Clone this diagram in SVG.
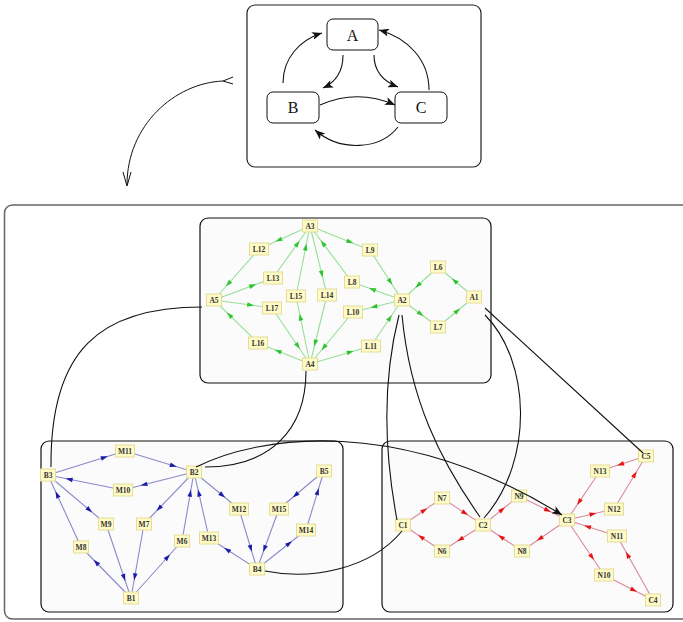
<svg xmlns="http://www.w3.org/2000/svg" width="683" height="622" viewBox="0 0 683 622">
<style>
.box{fill:#fff;stroke:#222;stroke-width:1.2}
.cl{fill:#fbfbfb;stroke:#111;stroke-width:1.2}
.st{fill:#fff;stroke:#111;stroke-width:1}
.big{font-family:"Liberation Serif",serif;font-size:16px;fill:#111;text-anchor:middle}
.nd{fill:#fefbc6;stroke:#e6dc98;stroke-width:1}
.nt{font-family:"Liberation Serif",serif;font-size:7.5px;font-weight:bold;fill:#333;text-anchor:middle}
.k{fill:none;stroke:#111;stroke-width:1.1}
.g{stroke:#97df97;stroke-width:1.1;marker-end:url(#ag)}
.b{stroke:#8a8acb;stroke-width:1.1;marker-end:url(#ab)}
.r{stroke:#d88a9a;stroke-width:1.1;marker-end:url(#ar)}
</style>
<defs>
<marker id="ag" markerUnits="userSpaceOnUse" orient="auto" viewBox="0 -4 30 8" markerWidth="30" markerHeight="8" refX="30" refY="0"><path d="M5,-2.3 L12,0 L5,2.3 z" fill="#2fc42f"/></marker>
<marker id="ab" markerUnits="userSpaceOnUse" orient="auto" viewBox="0 -4 30 8" markerWidth="30" markerHeight="8" refX="30" refY="0"><path d="M5,-2.3 L12,0 L5,2.3 z" fill="#1c1ca8"/></marker>
<marker id="ar" markerUnits="userSpaceOnUse" orient="auto" viewBox="0 -4 30 8" markerWidth="30" markerHeight="8" refX="30" refY="0"><path d="M5,-2.3 L12,0 L5,2.3 z" fill="#e41414"/></marker>
<marker id="blk" markerUnits="userSpaceOnUse" orient="auto" viewBox="0 0 10 8" markerWidth="10" markerHeight="8" refX="10" refY="4"><path d="M0,0 L10,4 L0,8 L2.5,4 z" fill="#111"/></marker>
<marker id="blk2" markerUnits="userSpaceOnUse" orient="auto" viewBox="0 0 10 8" markerWidth="11" markerHeight="8" refX="10" refY="4"><path d="M0,0 L10,4 L0,8 L2.5,4 z" fill="#111"/></marker>
</defs>
<rect width="683" height="622" fill="#fff"/>

<!-- top abstract graph -->
<g id="top-cluster">
<rect class="box" x="247" y="5" width="234" height="162" rx="8"/>
</g>
<g id="top-edges" fill="none" stroke="#111" stroke-width="1.1">
<path d="M283,83 C283,58 300,40 322,33" marker-end="url(#blk)"/>
<path d="M343,55 C343,72 336,82 323,88" marker-end="url(#blk)"/>
<path d="M374,55 C374,72 385,82 398,87" marker-end="url(#blk)"/>
<path d="M429,90 C429,60 408,38 379,30" marker-end="url(#blk)"/>
<path d="M320,105 C345,94 370,94 395,105" marker-end="url(#blk)"/>
<path d="M398,127 C380,150 340,152 315,130" marker-end="url(#blk)"/>
</g>
<g id="A"><rect class="st" x="327" y="19" width="51" height="31" rx="6"/><text class="big" x="352.5" y="40.5">A</text></g>
<g id="B"><rect class="st" x="267" y="92" width="52" height="31" rx="6"/><text class="big" x="293" y="113">B</text></g>
<g id="C"><rect class="st" x="395" y="92" width="52" height="31" rx="6"/><text class="big" x="421" y="113">C</text></g>

<g id="expand-arc" fill="none" stroke="#111" stroke-width="1">
<path d="M223,81 C175,83 127,125 127,185"/>
<path d="M233,77 L223,81 L233,84"/>
<path d="M123,172 L127,186 L131,172"/>
</g>

<!-- outer box and clusters -->
<g id="outer"><rect x="4.5" y="205" width="720" height="414" rx="8" fill="#fff" stroke="#666" stroke-width="1.5"/></g>
<g id="cluster-A"><rect class="cl" x="200" y="218" width="291" height="165" rx="8"/></g>
<g id="cluster-B"><rect class="cl" x="41" y="441" width="302" height="171" rx="8"/></g>
<g id="cluster-C"><rect class="cl" x="382" y="441" width="291" height="171" rx="8"/></g>

<!-- inner edges -->
<g id="edges-green" fill="none">
<path class="g" d="M310,226 L259,249"/>
<path class="g" d="M259,249 L214,300"/>
<path class="g" d="M214,300 L273,278"/>
<path class="g" d="M273,278 L310,226"/>
<path class="g" d="M214,300 L272,308"/>
<path class="g" d="M272,308 L310,364"/>
<path class="g" d="M296,296 L310,226"/>
<path class="g" d="M310,364 L296,296"/>
<path class="g" d="M310,226 L327,295"/>
<path class="g" d="M327,295 L310,364"/>
<path class="g" d="M310,364 L258,343"/>
<path class="g" d="M258,343 L214,300"/>
<path class="g" d="M352,282 L310,226"/>
<path class="g" d="M310,226 L370,250"/>
<path class="g" d="M370,250 L402,300"/>
<path class="g" d="M402,300 L352,282"/>
<path class="g" d="M438,267 L402,300"/>
<path class="g" d="M474,297 L438,267"/>
<path class="g" d="M402,300 L438,327"/>
<path class="g" d="M438,327 L474,297"/>
<path class="g" d="M402,300 L353,312"/>
<path class="g" d="M353,312 L310,364"/>
<path class="g" d="M371,346 L402,300"/>
<path class="g" d="M310,364 L371,346"/>
</g>
<g id="edges-blue" fill="none">
<path class="b" d="M48,475 L125,451"/>
<path class="b" d="M125,451 L194,472"/>
<path class="b" d="M194,472 L123,490"/>
<path class="b" d="M123,490 L48,475"/>
<path class="b" d="M48,475 L106,524"/>
<path class="b" d="M106,524 L131,598"/>
<path class="b" d="M131,598 L81,547"/>
<path class="b" d="M81,547 L48,475"/>
<path class="b" d="M194,472 L144,524"/>
<path class="b" d="M144,524 L131,598"/>
<path class="b" d="M131,598 L182,541"/>
<path class="b" d="M182,541 L194,472"/>
<path class="b" d="M194,472 L239,509"/>
<path class="b" d="M239,509 L257,569"/>
<path class="b" d="M257,569 L209,538"/>
<path class="b" d="M209,538 L194,472"/>
<path class="b" d="M324,471 L279,509"/>
<path class="b" d="M279,509 L257,569"/>
<path class="b" d="M257,569 L306,530"/>
<path class="b" d="M306,530 L324,471"/>
</g>
<g id="edges-red" fill="none">
<path class="r" d="M403,525 L442,498"/>
<path class="r" d="M442,498 L483,525"/>
<path class="r" d="M483,525 L442,551"/>
<path class="r" d="M442,551 L403,525"/>
<path class="r" d="M483,525 L519,496"/>
<path class="r" d="M519,496 L567,520"/>
<path class="r" d="M567,520 L522,551"/>
<path class="r" d="M522,551 L483,525"/>
<path class="r" d="M646,456 L600,471"/>
<path class="r" d="M600,471 L567,520"/>
<path class="r" d="M567,520 L614,509"/>
<path class="r" d="M614,509 L646,456"/>
<path class="r" d="M653,600 L617,536"/>
<path class="r" d="M617,536 L567,520"/>
<path class="r" d="M567,520 L604,575"/>
<path class="r" d="M604,575 L653,600"/>
</g>

<!-- nodes green -->
<g id="A3" transform="translate(310,226)"><rect class="nd" x="-7.5" y="-6" width="15" height="12"/><text class="nt" y="2.5">A3</text></g>
<g id="L12" transform="translate(259,249)"><rect class="nd" x="-9.5" y="-6" width="19" height="12"/><text class="nt" y="2.5">L12</text></g>
<g id="L13" transform="translate(273,278)"><rect class="nd" x="-9.5" y="-6" width="19" height="12"/><text class="nt" y="2.5">L13</text></g>
<g id="L15" transform="translate(296,296)"><rect class="nd" x="-9.5" y="-6" width="19" height="12"/><text class="nt" y="2.5">L15</text></g>
<g id="L14" transform="translate(327,295)"><rect class="nd" x="-9.5" y="-6" width="19" height="12"/><text class="nt" y="2.5">L14</text></g>
<g id="A5" transform="translate(214,300)"><rect class="nd" x="-7.5" y="-6" width="15" height="12"/><text class="nt" y="2.5">A5</text></g>
<g id="L17" transform="translate(272,308)"><rect class="nd" x="-9.5" y="-6" width="19" height="12"/><text class="nt" y="2.5">L17</text></g>
<g id="L16" transform="translate(258,343)"><rect class="nd" x="-9.5" y="-6" width="19" height="12"/><text class="nt" y="2.5">L16</text></g>
<g id="A4" transform="translate(310,364)"><rect class="nd" x="-7.5" y="-6" width="15" height="12"/><text class="nt" y="2.5">A4</text></g>
<g id="L9" transform="translate(370,250)"><rect class="nd" x="-7.5" y="-6" width="15" height="12"/><text class="nt" y="2.5">L9</text></g>
<g id="L8" transform="translate(352,282)"><rect class="nd" x="-7.5" y="-6" width="15" height="12"/><text class="nt" y="2.5">L8</text></g>
<g id="L6" transform="translate(438,267)"><rect class="nd" x="-7.5" y="-6" width="15" height="12"/><text class="nt" y="2.5">L6</text></g>
<g id="A2" transform="translate(402,300)"><rect class="nd" x="-7.5" y="-6" width="15" height="12"/><text class="nt" y="2.5">A2</text></g>
<g id="A1" transform="translate(474,297)"><rect class="nd" x="-7.5" y="-6" width="15" height="12"/><text class="nt" y="2.5">A1</text></g>
<g id="L10" transform="translate(353,312)"><rect class="nd" x="-9.5" y="-6" width="19" height="12"/><text class="nt" y="2.5">L10</text></g>
<g id="L7" transform="translate(438,327)"><rect class="nd" x="-7.5" y="-6" width="15" height="12"/><text class="nt" y="2.5">L7</text></g>
<g id="L11" transform="translate(371,346)"><rect class="nd" x="-9.5" y="-6" width="19" height="12"/><text class="nt" y="2.5">L11</text></g>

<!-- nodes blue -->
<g id="M11" transform="translate(125,451)"><rect class="nd" x="-9.5" y="-6" width="19" height="12"/><text class="nt" y="2.5">M11</text></g>
<g id="B3" transform="translate(48,475)"><rect class="nd" x="-7.5" y="-6" width="15" height="12"/><text class="nt" y="2.5">B3</text></g>
<g id="B2" transform="translate(194,472)"><rect class="nd" x="-7.5" y="-6" width="15" height="12"/><text class="nt" y="2.5">B2</text></g>
<g id="M10" transform="translate(123,490)"><rect class="nd" x="-9.5" y="-6" width="19" height="12"/><text class="nt" y="2.5">M10</text></g>
<g id="M9" transform="translate(106,524)"><rect class="nd" x="-7.5" y="-6" width="15" height="12"/><text class="nt" y="2.5">M9</text></g>
<g id="M7" transform="translate(144,524)"><rect class="nd" x="-7.5" y="-6" width="15" height="12"/><text class="nt" y="2.5">M7</text></g>
<g id="M8" transform="translate(81,547)"><rect class="nd" x="-7.5" y="-6" width="15" height="12"/><text class="nt" y="2.5">M8</text></g>
<g id="M6" transform="translate(182,541)"><rect class="nd" x="-7.5" y="-6" width="15" height="12"/><text class="nt" y="2.5">M6</text></g>
<g id="B1" transform="translate(131,598)"><rect class="nd" x="-7.5" y="-6" width="15" height="12"/><text class="nt" y="2.5">B1</text></g>
<g id="M12" transform="translate(239,509)"><rect class="nd" x="-9.5" y="-6" width="19" height="12"/><text class="nt" y="2.5">M12</text></g>
<g id="M15" transform="translate(279,509)"><rect class="nd" x="-9.5" y="-6" width="19" height="12"/><text class="nt" y="2.5">M15</text></g>
<g id="B5" transform="translate(324,471)"><rect class="nd" x="-7.5" y="-6" width="15" height="12"/><text class="nt" y="2.5">B5</text></g>
<g id="M13" transform="translate(209,538)"><rect class="nd" x="-9.5" y="-6" width="19" height="12"/><text class="nt" y="2.5">M13</text></g>
<g id="M14" transform="translate(306,530)"><rect class="nd" x="-9.5" y="-6" width="19" height="12"/><text class="nt" y="2.5">M14</text></g>
<g id="B4" transform="translate(257,569)"><rect class="nd" x="-7.5" y="-6" width="15" height="12"/><text class="nt" y="2.5">B4</text></g>

<!-- nodes red -->
<g id="N7" transform="translate(442,498)"><rect class="nd" x="-7.5" y="-6" width="15" height="12"/><text class="nt" y="2.5">N7</text></g>
<g id="C1" transform="translate(403,525)"><rect class="nd" x="-7.5" y="-6" width="15" height="12"/><text class="nt" y="2.5">C1</text></g>
<g id="C2" transform="translate(483,525)"><rect class="nd" x="-7.5" y="-6" width="15" height="12"/><text class="nt" y="2.5">C2</text></g>
<g id="N6" transform="translate(442,551)"><rect class="nd" x="-7.5" y="-6" width="15" height="12"/><text class="nt" y="2.5">N6</text></g>
<g id="N9" transform="translate(519,496)"><rect class="nd" x="-7.5" y="-6" width="15" height="12"/><text class="nt" y="2.5">N9</text></g>
<g id="N8" transform="translate(522,551)"><rect class="nd" x="-7.5" y="-6" width="15" height="12"/><text class="nt" y="2.5">N8</text></g>
<g id="C3" transform="translate(567,520)"><rect class="nd" x="-7.5" y="-6" width="15" height="12"/><text class="nt" y="2.5">C3</text></g>
<g id="C5" transform="translate(646,456)"><rect class="nd" x="-7.5" y="-6" width="15" height="12"/><text class="nt" y="2.5">C5</text></g>
<g id="N13" transform="translate(600,471)"><rect class="nd" x="-9.5" y="-6" width="19" height="12"/><text class="nt" y="2.5">N13</text></g>
<g id="N12" transform="translate(614,509)"><rect class="nd" x="-9.5" y="-6" width="19" height="12"/><text class="nt" y="2.5">N12</text></g>
<g id="N11" transform="translate(617,536)"><rect class="nd" x="-9.5" y="-6" width="19" height="12"/><text class="nt" y="2.5">N11</text></g>
<g id="N10" transform="translate(604,575)"><rect class="nd" x="-9.5" y="-6" width="19" height="12"/><text class="nt" y="2.5">N10</text></g>
<g id="C4" transform="translate(653,600)"><rect class="nd" x="-7.5" y="-6" width="15" height="12"/><text class="nt" y="2.5">C4</text></g>

<!-- inter-cluster connectors -->
<g id="inter-edges">
<path class="k" d="M202,307 C100,307 50,350 51,467"/>
<path class="k" d="M306,371 C306,430 270,467 205,467"/>
<path class="k" d="M196,467 C260,435 400,415 562,515" marker-end="url(#blk2)"/>
<path class="k" d="M265,571 C310,580 370,570 402,531"/>
<path class="k" d="M399,315 C385,370 382,440 397,520"/>
<path class="k" d="M402,315 C410,400 440,460 480,517"/>
<path class="k" d="M485,315 C530,360 535,460 484,518"/>
<path class="k" d="M485,308 L643,453"/>
</g>
</svg>
